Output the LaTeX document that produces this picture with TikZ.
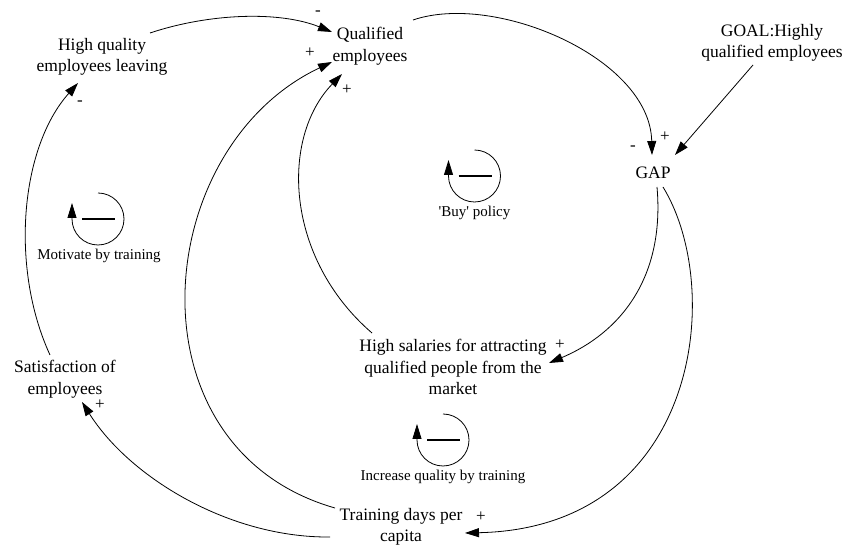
\documentclass[tikz,border=0pt]{standalone}
\usepackage{fontspec}
\setmainfont{Liberation Serif}
\usetikzlibrary{arrows.meta}
\begin{document}
\begin{tikzpicture}[x=1pt,y=1pt,
  var/.style={align=center, font=\fontsize{17.5}{21.5}\selectfont, inner sep=2pt},
  looplabel/.style={font=\fontsize{15}{17}\selectfont, inner sep=1pt},
  pol/.style={font=\fontsize{17}{17}\selectfont, inner sep=0pt},
  link/.style={line width=0.8pt, -{Triangle[length=14pt,width=9pt]}},
  loopsym/.pic={
    \draw[line width=0.8pt, -{Triangle[length=15pt,width=9pt]}]
      (90:26) arc[start angle=90, end angle=-180, radius=26] -- ++(0,16);
    \draw[line width=2.4pt] (-16,0) -- (17,0);
  }
]
\useasboundingbox (0,0) rectangle (843,548);

% variables
\node[var] (leaving) at (102,491) {High quality\\employees leaving};
\node[var] (qual) at (370,502) {Qualified\\employees};
\node[var] (goal) at (772,505) {GOAL:Highly\\qualified employees};
\node[var] (gap) at (653,375) {GAP};
\node[var] (sal) at (453,181) {High salaries for attracting\\qualified people from the\\market};
\node[var] (train) at (401,21) {Training days per\\capita};
\node[var] (sat) at (65,169) {Satisfaction of\\employees};

% loop markers
\pic (buy) at (474.5,372) {loopsym};
\node[looplabel] (buylbl) at (474.5,335) {\textquotesingle Buy\textquotesingle{} policy};
\pic (mot) at (98,329) {loopsym};
\node[looplabel] (motlbl) at (99,292) {Motivate by training};
\pic (inc) at (443,108) {loopsym};
\node[looplabel] (inclbl) at (443,71) {Increase quality by training};

% causal links
\draw[link] ([shift={(48,24)}]leaving.center) .. controls (210,535) and (280,537) .. ([shift={(-38,14)}]qual.center);
\draw[link] ([shift={(43,26)}]qual.center) .. controls (495,556) and (650,490) .. ([shift={(-1,18)}]gap.center);
\draw[link] ([shift={(-19,-22)}]goal.center) -- ([shift={(22,18)}]gap.center);
\draw[link] ([shift={(4,-14)}]gap.center) .. controls (665,270) and (620,215) .. ([shift={(96,4)}]sal.center);
\draw[link] ([shift={(-81,34)}]sal.center) .. controls (285,290) and (280,410) .. ([shift={(-28,-28)}]qual.center);
\draw[link] ([shift={(10,-14)}]gap.center) .. controls (725,260) and (700,20) .. ([shift={(64,-6)}]train.center);
\draw[link] ([shift={(-71,-10)}]train.center) .. controls (230,10) and (130,70) .. ([shift={(17,-23)}]sat.center);
\draw[link] ([shift={(-15,24)}]sat.center) .. controls (10,280) and (20,400) .. ([shift={(-24,-26)}]leaving.center);
\draw[link] ([shift={(-66,19)}]train.center) .. controls (125,100) and (150,400) .. ([shift={(-38,-16)}]qual.center);

% polarities
\node[pol] (s1) at (318,535) {-};
\node[pol] (s2) at (310,495) {+};
\node[pol] (s3) at (347,458) {+};
\node[pol] (s4) at (80,445) {-};
\node[pol] (s5) at (633,400) {-};
\node[pol] (s6) at (665,411) {+};
\node[pol] (s7) at (560,203) {+};
\node[pol] (s8) at (481,31) {+};
\node[pol] (s9) at (100,143) {+};
\end{tikzpicture}
\end{document}
